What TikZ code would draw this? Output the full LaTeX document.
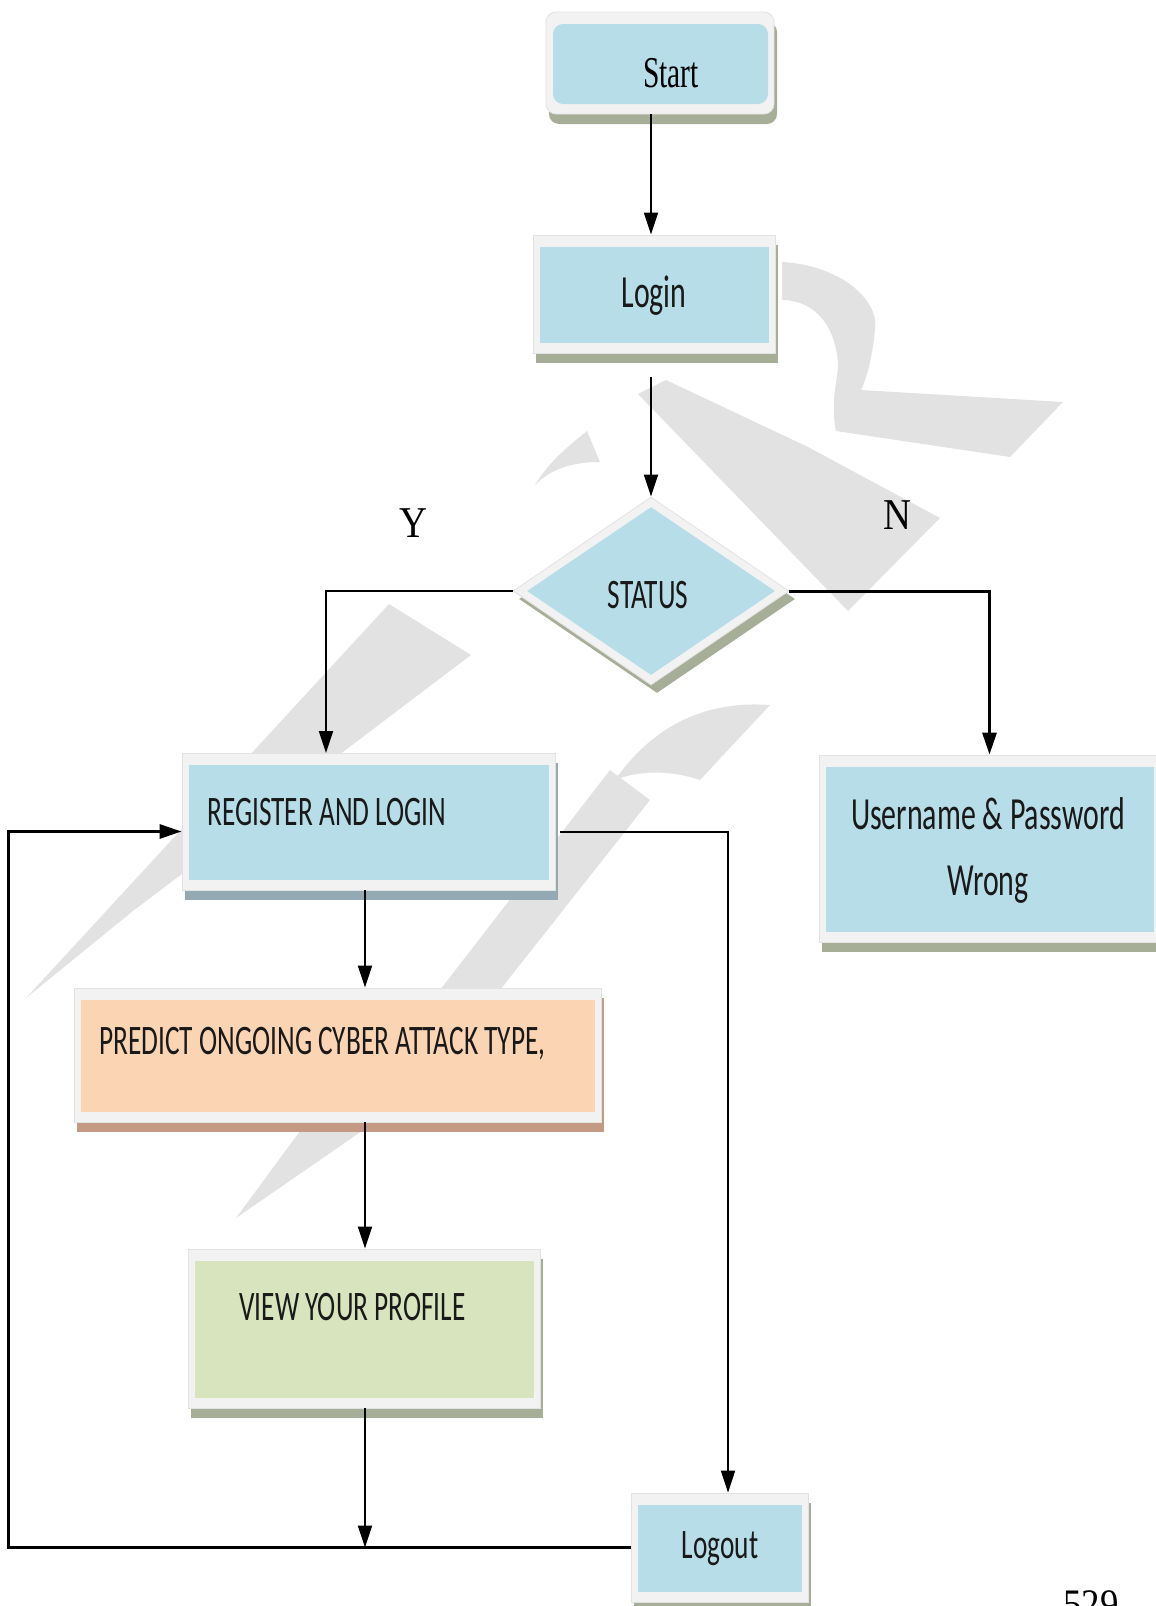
\documentclass[tikz,border=0pt]{standalone}
\usepackage{fontspec}
\newfontfamily\boxfont[FakeStretch=0.65]{Carlito}
\newfontfamily\titlefont[FakeStretch=0.67]{Liberation Serif}
\newfontfamily\markfont[FakeStretch=0.88]{Liberation Serif}
\usepackage{tikz}
\usetikzlibrary{arrows.meta,shapes.geometric,shadows,calc}

\definecolor{boxblue}{HTML}{B7DDE8}
\definecolor{boxpeach}{HTML}{FBD4B4}
\definecolor{boxolive}{HTML}{D7E4BD}
\definecolor{framegray}{HTML}{F2F2F2}
\definecolor{edgegray}{HTML}{E2E2E2}
\definecolor{shadegreen}{HTML}{A6AE98}
\definecolor{shadeblue}{HTML}{93A9B3}
\definecolor{shadebrown}{HTML}{C49A84}
\definecolor{wmgray}{HTML}{E2E2E2}

\begin{document}
\begin{tikzpicture}[x=0.5pt,y=-0.5pt,
  panel/.style={rectangle, fill=framegray, draw=edgegray, line width=0.4pt, inner sep=0pt,
    path picture={\fill[#1] ([xshift=3.5pt,yshift=-6pt]path picture bounding box.north west) rectangle ([xshift=-3pt,yshift=5pt]path picture bounding box.south east);}},
  gem/.style={diamond, fill=framegray, draw=edgegray, line width=0.4pt, inner sep=0pt,
    minimum width=138pt, minimum height=94pt,
    path picture={\fill[boxblue] ([yshift=-5pt]path picture bounding box.north) -- ([xshift=7pt]path picture bounding box.west) -- ([yshift=5pt]path picture bounding box.south) -- ([xshift=-7pt]path picture bounding box.east) -- cycle;}},
  castshadow/.style={drop shadow={shadow xshift=1.5pt, shadow yshift=-5pt, fill=#1, opacity=1}},
  lbl/.style={font=\boxfont\fontsize{21}{25}\selectfont, inner sep=0pt, text=black!90},
  biglbl/.style={font=\boxfont\fontsize{23}{27}\selectfont, inner sep=0pt, text=black!90},
  yesno/.style={font=\markfont\fontsize{22}{26}\selectfont, inner sep=0pt},
  flow/.style={-{Triangle[length=11pt,width=7pt]}, line width=1pt}]
\useasboundingbox (0,0) rectangle (1156,1606);
\clip (0,0) rectangle (1156,1606);

%Watermark
\fill[wmgray] (638,394) -- (666,380) -- (808,447) -- (940,518) -- (848,611) -- cycle;
\fill[wmgray] (782,262) .. controls (840,265) and (880,300) .. (875,330) .. controls (872,360) and (866,380) .. (861,390) -- (1063,402) -- (1010,457) -- (836,431) .. controls (830,400) and (838,380) .. (838,364) .. controls (835,320) and (810,300) .. (782,300) -- cycle;
\fill[wmgray] (587,431) -- (600,462) .. controls (570,462) and (550,470) .. (535,485) .. controls (550,460) and (570,445) .. cycle;
\fill[wmgray] (26,998) -- (389,604) -- (471,655) -- (133,911) -- cycle;
\fill[wmgray] (440,990) -- (500,990) -- (650,800) -- (610,770) -- cycle;
\fill[wmgray] (615,780) .. controls (650,730) and (700,700) .. (770,705) -- (700,780) .. controls (670,770) and (640,770) .. cycle;
\fill[wmgray] (236,1218) -- (300,1131) -- (362,1131) -- cycle;

%Shapes
\node[panel=boxblue, castshadow=shadegreen, rounded corners=5pt, minimum width=114pt, minimum height=51pt] (start) at (660,63) {};
\node[panel=boxblue, castshadow=shadegreen, minimum width=121pt, minimum height=59pt] (login) at (654,294) {};
\node[gem, drop shadow={shadow xshift=3pt, shadow yshift=-4pt, fill=shadegreen, opacity=1}] (status) at (651,591) {};
\node[panel=boxblue, castshadow=shadeblue, minimum width=186.5pt, minimum height=68.5pt] (reg) at (368.5,821.5) {};
\node[panel=boxblue, castshadow=shadegreen, minimum width=170.5pt, minimum height=93.5pt] (wrong) at (989.5,848.5) {};
\node[panel=boxpeach, castshadow=shadebrown, minimum width=263.5pt, minimum height=67pt] (pred) at (337.5,1055) {};
\node[panel=boxolive, castshadow=shadegreen, minimum width=176pt, minimum height=79.5pt] (view) at (364,1328.5) {};
\node[panel=boxblue, castshadow=shadegreen, minimum width=88.5pt, minimum height=54.5pt] (logout) at (719.5,1547.5) {};

% Text Node
\node[font=\titlefont\fontsize{22}{26}\selectfont, inner sep=0pt] (startlbl) at (671,73) {Start};
\node[biglbl] (loginlbl) at (654,296) {Login};
\node[lbl] (statuslbl) at (648,595) {STATUS};
\node[lbl, anchor=west] (reglbl) at (207,812) {REGISTER AND LOGIN};
\node[biglbl] (wronglbl1) at (988,814) {Username \& Password};
\node[biglbl] (wronglbl2) at (988,885) {Wrong};
\node[lbl, anchor=west] (predlbl) at (99,1044) {PREDICT ONGOING CYBER ATTACK TYPE,};
\node[lbl, anchor=west] (viewlbl) at (239,1307) {VIEW YOUR PROFILE};
\node[lbl] (logoutlbl) at (720,1549) {Logout};
\node[yesno] (ylbl) at (413,523) {Y};
\node[yesno] (nlbl) at (897,515) {N};
\node[anchor=north west, inner sep=0pt, font=\markfont\fontsize{21}{24}\selectfont] (pageno) at (1063,1590) {529};

%Connectors
\coordinate (midx) at (365,0);
\coordinate (regin) at (326,753);
\coordinate (outx) at (728,0);
\coordinate (loopx) at (8,0);
\draw[flow] (start.south -| status) -- (login.north -| status);
\draw[flow] ($(login.south -| status)+(0,24)$) -- (status.north);
\draw[flow] (status.west) -| (regin);
\draw[flow, line width=1.5pt] (status.east) -| (wrong.north);
\draw[flow] (reg.south -| midx) -- (pred.north -| midx);
\draw[flow] (pred.south -| midx) -- (view.north -| midx);
\draw[flow] (view.south -| midx) -- (logout.west -| midx);
\draw[flow] ($(reg.east)+(5,10)$) -| (logout.north -| outx);
\draw[flow, line width=1.5pt] (logout.west) -- (logout.west -| loopx) |- ($(reg.west)+(0,10)$);
\end{tikzpicture}
\end{document}
